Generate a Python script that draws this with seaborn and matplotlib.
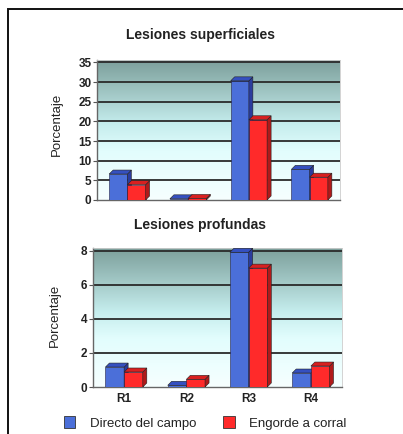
import numpy as np
import pandas as pd
import seaborn as sns
import matplotlib.pyplot as plt
from matplotlib.colors import LinearSegmentedColormap
from matplotlib.patches import Polygon, Rectangle

sns.set_theme(style="white")
plt.rcParams["font.family"] = ["Liberation Sans", "DejaVu Sans"]

regions = ["R1", "R2", "R3", "R4"]
series = ["Directo del campo", "Engorde a corral"]
sup_directo = [6.6, 0.3, 30.3, 7.8]
sup_engorde = [3.9, 0.4, 20.4, 5.8]
prof_directo = [1.17, 0.1, 7.9, 0.82]
prof_engorde = [0.88, 0.45, 6.97, 1.23]

BLUE = "#4b6fd9"
RED = "#ff2a2a"
SIDE = {BLUE: "#2b3c9e", RED: "#b01a1a"}
TOP = {BLUE: "#3550c0", RED: "#d82020"}
TXT = "#222222"

bg_cmap = LinearSegmentedColormap.from_list(
    "wall", [(0.0, "#f6ffff"), (0.35, "#e2fdfd"), (0.55, "#c4ecec"), (1.0, "#7c9f9b")])


def make_df(a, b):
    return pd.DataFrame({
        "region": regions * 2,
        "serie": [series[0]] * 4 + [series[1]] * 4,
        "pct": list(a) + list(b),
    })


def panel(ax, df, ymax, ticks, show_x):
    ax.set_xlim(-0.5, 3.5)
    ax.set_ylim(0, ymax)
    ax.imshow(np.linspace(0, 1, 256)[:, None], cmap=bg_cmap, origin="lower",
              extent=(-0.5, 3.5, 0, ymax), aspect="auto", zorder=0)
    for t in ticks[1:]:
        ax.axhline(t, color="#2a2a2a", lw=1.3, zorder=1)
    sns.barplot(data=df, x="region", y="pct", hue="serie", palette=[BLUE, RED],
                width=0.6, gap=0, dodge=True, saturation=1, ax=ax, legend=False,
                edgecolor="#222244", linewidth=0.4, zorder=3)
    ax.set_xlim(-0.5, 3.5)
    ax.set_ylim(0, ymax)
    # depth offset of ~4 px in data units
    inv = ax.transData.inverted()
    p0 = inv.transform((0, 0))
    p1 = inv.transform((4, 4))
    dx, dy = p1[0] - p0[0], p1[1] - p0[1]
    for k, cont in enumerate(ax.containers):
        for bar in cont:
            bar.set_zorder(3 + 2 * k)
            x0, w, h = bar.get_x(), bar.get_width(), bar.get_height()
            col = BLUE if k == 0 else RED
            side = Polygon([(x0 + w, 0), (x0 + w, h), (x0 + w + dx, h + dy), (x0 + w + dx, dy)],
                           closed=True, facecolor=SIDE[col], edgecolor="#222222", lw=0.4,
                           zorder=3 + 2 * k)
            top = Polygon([(x0, h), (x0 + w, h), (x0 + w + dx, h + dy), (x0 + dx, h + dy)],
                          closed=True, facecolor=TOP[col], edgecolor="#222222", lw=0.4,
                          zorder=3 + 2 * k)
            ax.add_patch(side)
            ax.add_patch(top)
    ax.set_yticks(ticks)
    ax.set_yticklabels([str(t) for t in ticks], fontsize=8.5, fontweight="bold", color=TXT)
    ax.tick_params(axis="y", length=3, width=0.8, color="#555555", pad=1, left=True)
    ax.set_xticks(range(4))
    if show_x:
        ax.set_xticklabels(regions, fontsize=8.5, fontweight="bold", color=TXT)
        ax.tick_params(axis="x", length=0, pad=4)
    else:
        ax.set_xticklabels([])
        ax.tick_params(axis="x", length=0)
    ax.set_xlabel("")
    ax.set_ylabel("")
    for s in ["top", "right"]:
        ax.spines[s].set_color("#cccccc")
        ax.spines[s].set_linewidth(0.6)
    for s in ["left", "bottom"]:
        ax.spines[s].set_color("#666666")
        ax.spines[s].set_linewidth(1.0)


fig = plt.figure(figsize=(4.03, 4.34), dpi=100)
fig.patch.set_facecolor("white")

ax1 = fig.add_axes([97 / 403, 1 - 200 / 434, 243 / 403, 140 / 434])
ax2 = fig.add_axes([93 / 403, 1 - 387 / 434, 249 / 403, 139 / 434])

panel(ax1, make_df(sup_directo, sup_engorde), 35.6, [0, 5, 10, 15, 20, 25, 30, 35], False)
panel(ax2, make_df(prof_directo, prof_engorde), 8.15, [0, 2, 4, 6, 8], True)

fig.text(200 / 403, 1 - 35 / 434, "Lesiones superficiales", ha="center", va="center",
         fontsize=10, fontweight="bold", color=TXT)
fig.text(200 / 403, 1 - 225 / 434, "Lesiones profundas", ha="center", va="center",
         fontsize=10, fontweight="bold", color=TXT)
fig.text(57 / 403, 1 - 124 / 434, "Porcentaje", rotation=90, ha="center", va="center",
         fontsize=9.5, color=TXT)
fig.text(55 / 403, 1 - 315 / 434, "Porcentaje", rotation=90, ha="center", va="center",
         fontsize=9.5, color=TXT)

handles = [Rectangle((0, 0), 1, 1, facecolor=c, edgecolor="#333333", lw=0.6) for c in (BLUE, RED)]
fig.legend(handles, series, loc="center", bbox_to_anchor=(205 / 403, 1 - 423 / 434),
           ncol=2, frameon=False, fontsize=9.5, handlelength=0.9, handleheight=1.0,
           columnspacing=2.0, handletextpad=1.1, labelcolor=TXT)

# outer frame
fig.add_artist(Rectangle((8 / 403, -0.1), 1.1, 1.1 - 9 / 434, transform=fig.transFigure,
                         fill=False, edgecolor="#111111", lw=1.4))

fig.savefig("out.png", dpi=100)
